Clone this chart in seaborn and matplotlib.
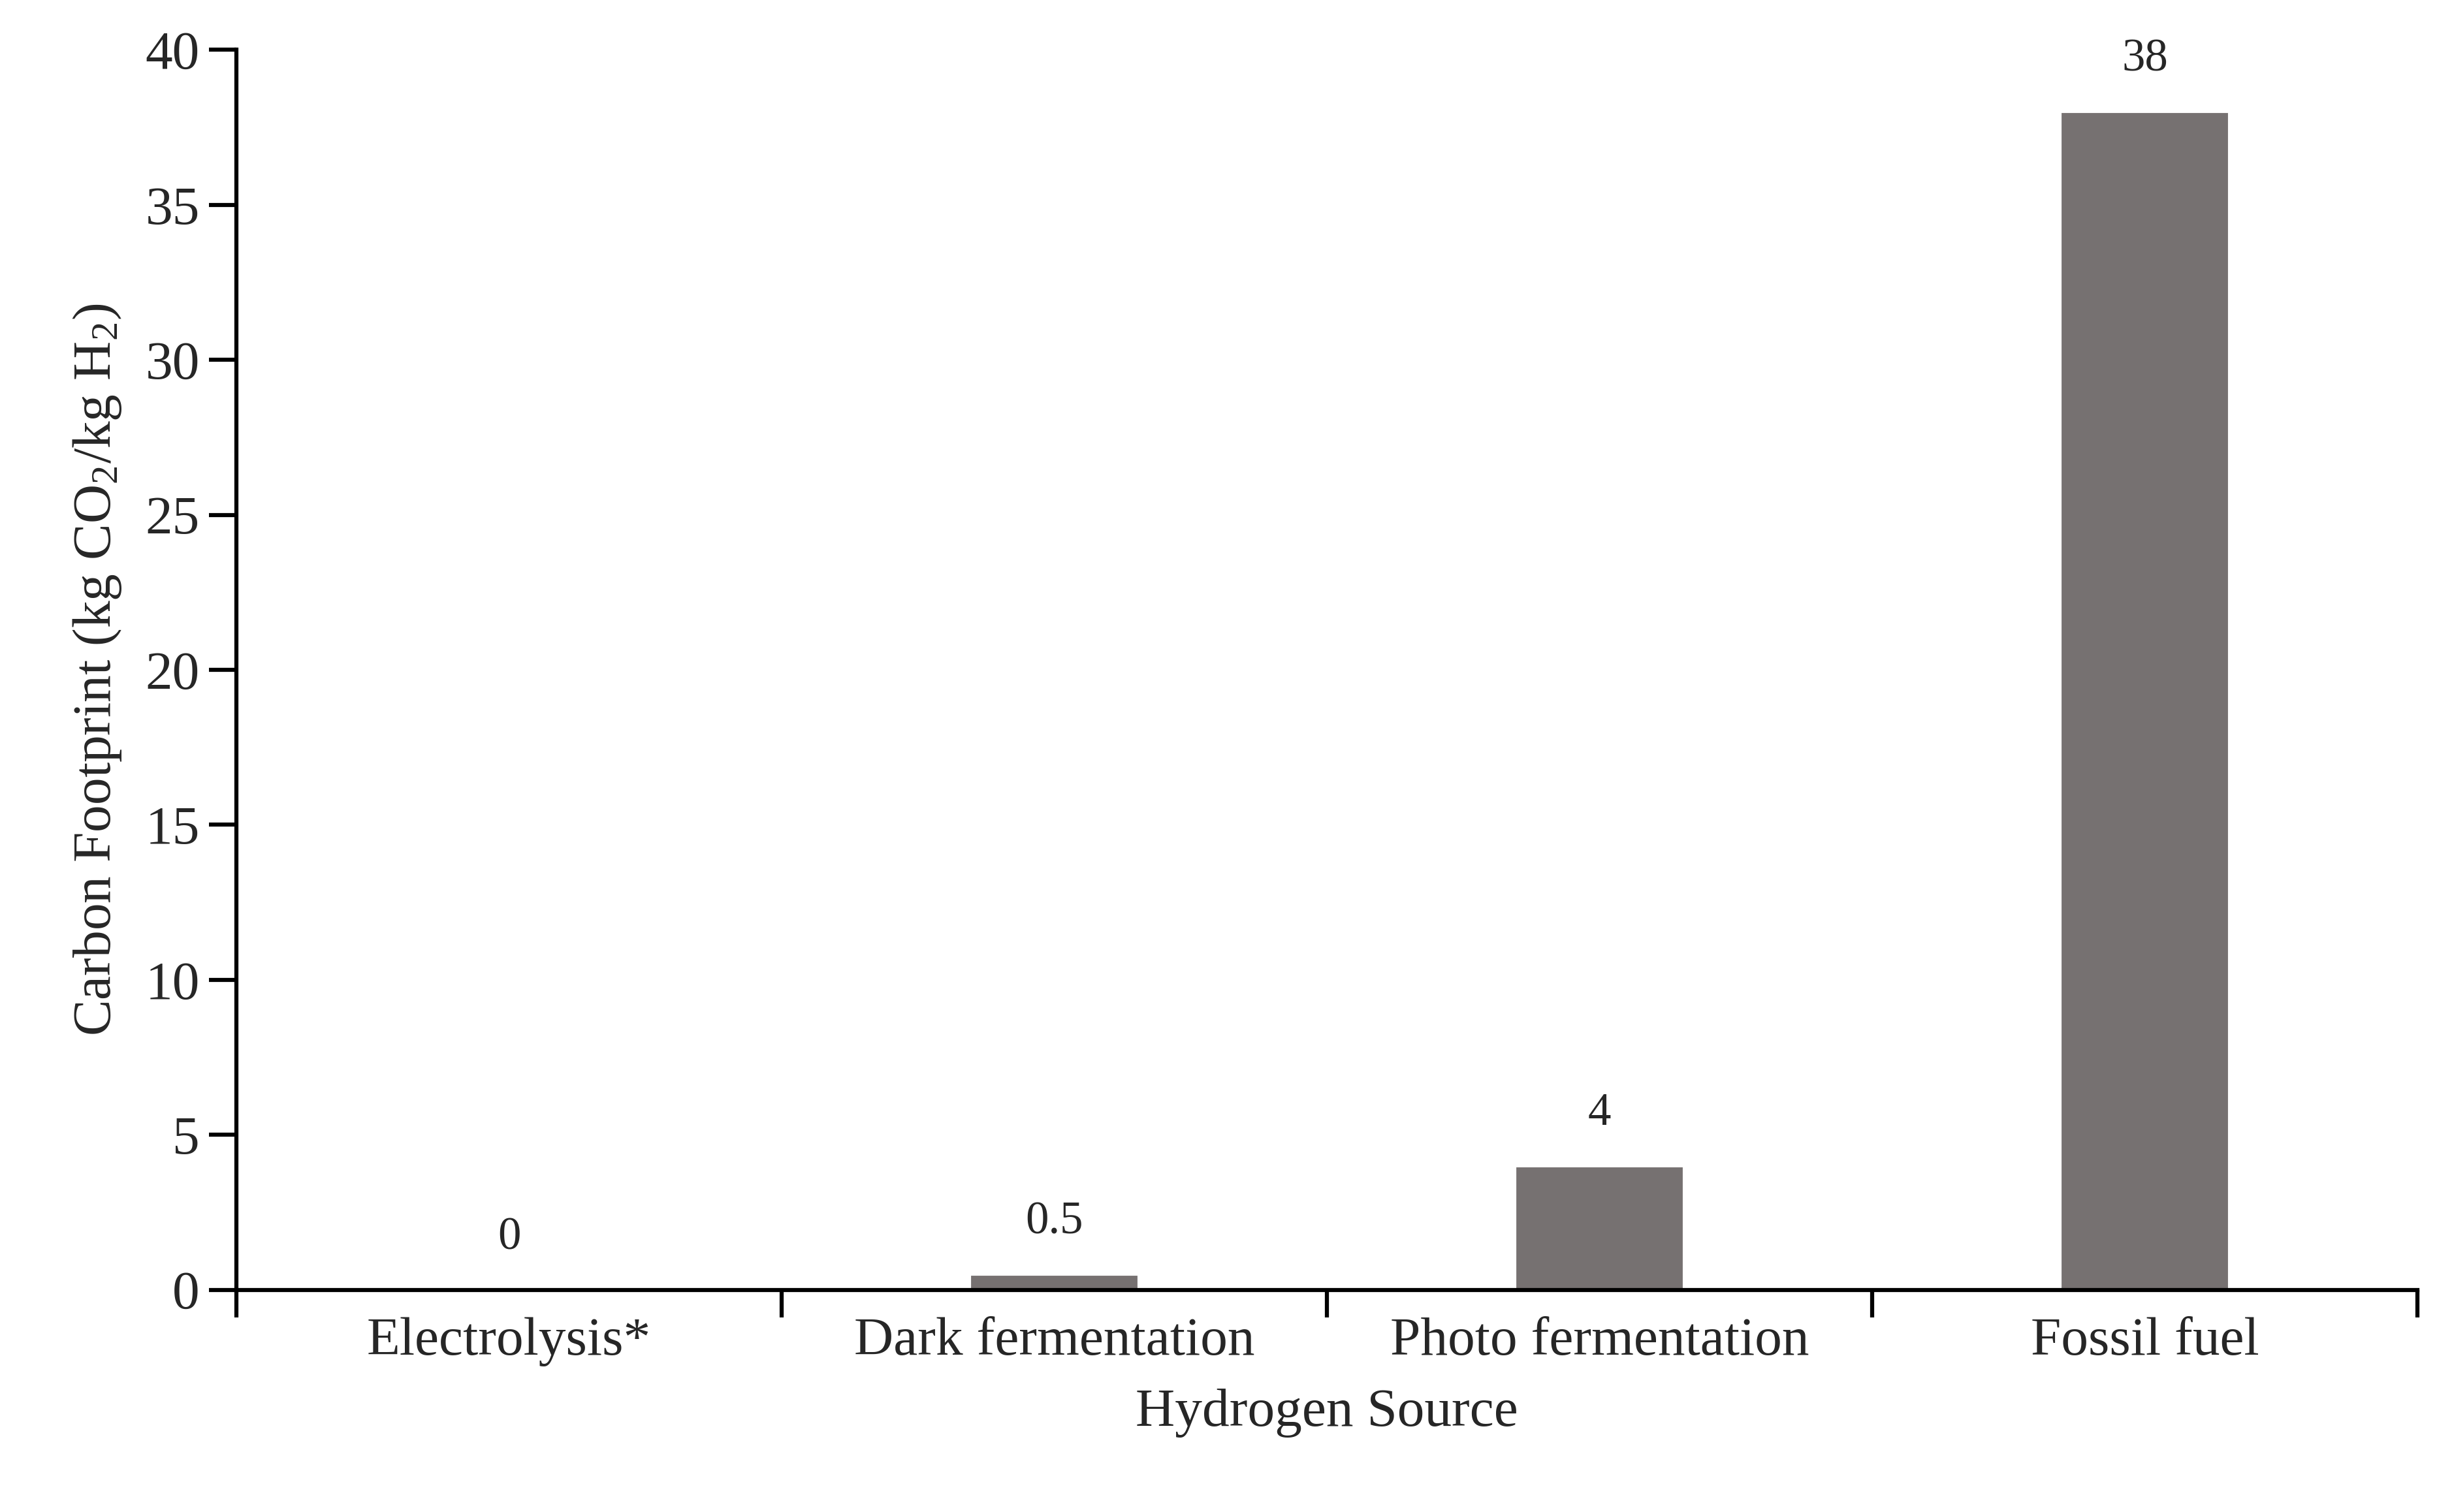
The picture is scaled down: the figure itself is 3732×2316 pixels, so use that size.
import matplotlib
matplotlib.use("Agg")
import matplotlib.pyplot as plt
import seaborn as sns
import pandas as pd
import numpy as np

categories = ["Electrolysis*", "Dark fermentation", "Photo fermentation", "Fossil fuel"]
values = [0, 0.5, 4, 38]
value_labels = ["0", "0.5", "4", "38"]

sns.set_theme(style="white")
plt.rcParams["font.family"] = ["Liberation Serif", "DejaVu Serif"]
plt.rcParams["mathtext.fontset"] = "custom"
plt.rcParams["mathtext.rm"] = "Liberation Serif"
plt.rcParams["mathtext.it"] = "Liberation Serif:italic"

fig = plt.figure(figsize=(12.44, 7.72), dpi=300)
ax = fig.add_axes([0.097, 0.147, 0.895, 0.82])
df = pd.DataFrame({"cat": categories, "val": values})
sns.barplot(data=df, x="cat", y="val", color="#767171", saturation=1, width=0.31, ax=ax)
for i, (v, t) in enumerate(zip(values, value_labels)):
    ax.text(i, v + 1.0, t, ha="center", va="bottom", fontsize=17)

ax.set_xlim(-0.5, 3.5)
ax.set_ylim(0, 40)
ax.set_yticks(range(0, 41, 5))
ax.set_xticks(np.arange(-0.5, 3.6, 1))
ax.set_xticklabels([])
ax.set_xticks(range(4), minor=True)
ax.set_xticklabels(categories, minor=True, fontsize=20)
ax.tick_params(axis="x", which="major", direction="out", length=10, width=1.5, bottom=True, color="black")
ax.tick_params(axis="x", which="minor", length=0, pad=10)
ax.tick_params(axis="y", direction="out", length=10, width=1.5, left=True, labelsize=20, color="black")
for s in ["top", "right"]:
    ax.spines[s].set_visible(False)
for s in ["left", "bottom"]:
    ax.spines[s].set_color("black")
    ax.spines[s].set_linewidth(1.5)
ax.set_xlabel("Hydrogen Source", fontsize=20, labelpad=8)
ax.set_ylabel("Carbon Footprint (kg CO$_2$/kg H$_2$)", fontsize=20, labelpad=8)
fig.savefig("out.png", dpi=300)
